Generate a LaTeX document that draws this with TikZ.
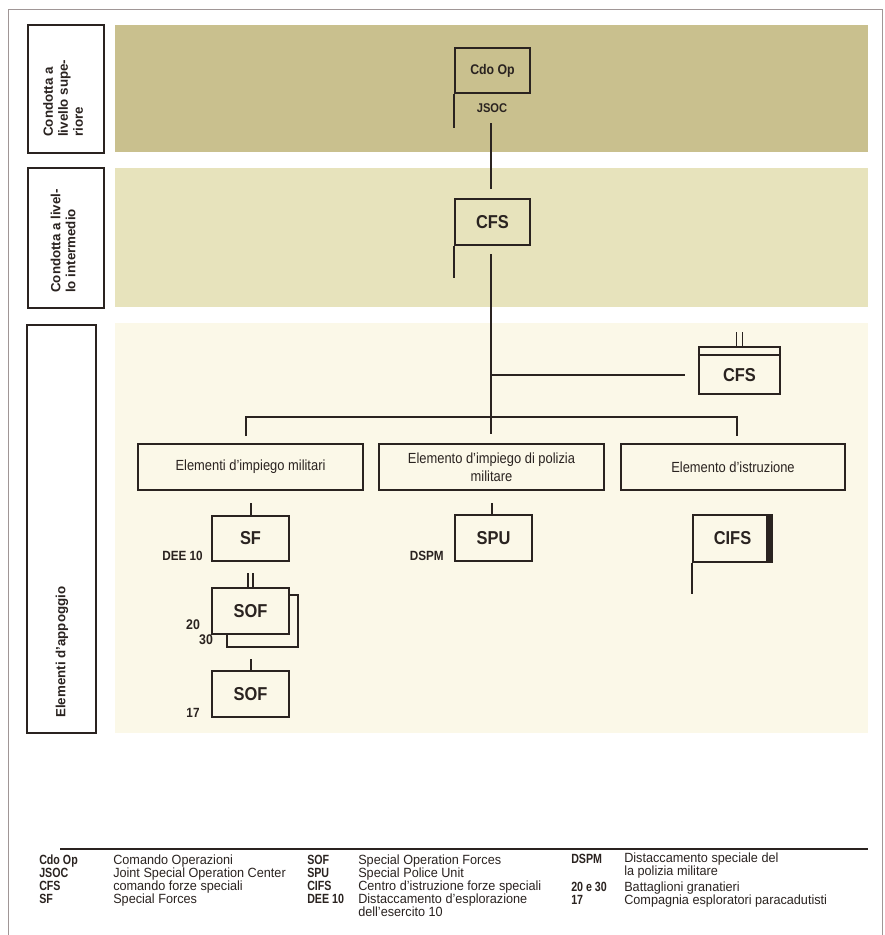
\documentclass[tikz,border=0pt]{standalone}
\usepackage{fontspec}
\setmainfont{Liberation Sans}
\newfontfamily\cond{Liberation Sans}[FakeStretch=0.88]
\newfontfamily\lgdr{Liberation Sans}[FakeStretch=0.95]
\newfontfamily\lgdb{Liberation Sans}[FakeStretch=0.80]
\definecolor{ink}{RGB}{42,35,32}
\definecolor{bandA}{RGB}{201,192,142}
\definecolor{bandB}{RGB}{231,227,188}
\definecolor{bandC}{RGB}{251,248,232}
\definecolor{framec}{RGB}{160,150,150}
\tikzset{
  unitbox/.style={draw=ink, line width=1.6pt, inner sep=0pt, text=ink},
  catbox/.style={draw=ink, line width=1.5pt, inner sep=0pt, text=ink, align=center,
     minimum width=168.75pt, minimum height=34.5pt, font=\cond\fontsize{11}{13.5}\selectfont},
  conn/.style={draw=ink, line width=0.9pt},
  bigt/.style={font=\cond\bfseries\fontsize{14}{15}\selectfont},
  sidelab/.style={rotate=90, anchor=west, align=left, inner sep=0pt, text=ink,
     font=\bfseries\fontsize{10}{11.25}\selectfont},
  sidebox/.style={draw=ink, line width=1.6pt},
  tag/.style={inner sep=0pt, text=ink, font=\cond\bfseries\fontsize{10}{11}\selectfont},
  labb/.style={anchor=base west, inner sep=0pt, text=ink, font=\lgdb\bfseries\fontsize{10}{10}\selectfont},
  labr/.style={anchor=base west, inner sep=0pt, text=ink, align=left, font=\lgdr\fontsize{10}{8}\selectfont},
}
\begin{document}
\begin{tikzpicture}[x=0.75pt,y=-0.75pt]
\useasboundingbox (0,0) rectangle (885,935);
\fill[white] (0,0) rectangle (885,935);
% outer frame
\draw[framec, line width=0.6pt] (8,935) -- (8,9) -- (882,9) -- (882,935);
% bands
\fill[bandA] (115,25) rectangle (868,152);
\fill[bandB] (115,168) rectangle (868,307);
\fill[bandC] (115,323) rectangle (868,733);
% side label boxes
\draw[sidebox] (28,25) rectangle (104,153);
\draw[sidebox] (28,168) rectangle (104,308);
\draw[sidebox] (27,325) rectangle (96,733);
\node[sidelab] (s1) at (63,137) {Condotta a\\livello supe-\\riore};
\node[sidelab] (s2) at (63,293) {Condotta a livel-\\lo intermedio};
\node[sidelab] (s3) at (62,718) {Elementi d’appoggio};

% top level
\node[unitbox, minimum width=56.25pt, minimum height=33.75pt,
      font=\cond\bfseries\fontsize{10.5}{12}\selectfont] (cdo) at (492.5,70.5) {Cdo Op};
\draw[ink, line width=1.6pt] (cdo.south west) -- ++(0,34);
\node[tag, font=\cond\bfseries\fontsize{9.5}{11}\selectfont] (jsoc) at (492,108) {JSOC};

% intermediate
\node[unitbox, bigt, minimum width=56.25pt, minimum height=34.5pt] (cfs1) at (492.5,222) {CFS};
\draw[ink, line width=1.6pt] (cfs1.south west) -- ++(0,32);
\draw[conn, shorten <=21.75pt, shorten >=6.75pt] (cdo.south -| 491,0) -- (cfs1.north -| 491,0);

% support level
\node[catbox] (e1) at (250.5,467) {Elementi d’impiego militari};
\node[catbox] (e2) at (491.5,467) {Elemento d’impiego di polizia\\militare};
\node[catbox, minimum width=168pt] (e3) at (733,467) {Elemento d’istruzione};

\draw[conn, shorten <=6pt, shorten >=6.75pt] (cfs1.south -| 491,0) -- (e2.north -| 491,0);

% side CFS
\node[unitbox, minimum width=60.75pt, minimum height=35.25pt] (cfs2) at (739.5,370.5) {};
\node[bigt, inner sep=0pt, text=ink] (cfs2t) at (739.5,375.5) {CFS};
\draw[ink, line width=1.3pt] (cfs2.north west) ++(0,9) -- ++(81,0);
\draw[ink, line width=1.2pt] (cfs2.north) ++(-3,0) -- ++(0,-14);
\draw[ink, line width=1.2pt] (cfs2.north) ++(3,0) -- ++(0,-14);
\coordinate (j1) at (491,375);
\draw[conn, shorten >=9.75pt] (j1) -- (j1 -| cfs2.west);

% main horizontal to the three categories
\draw[conn, shorten <=5.25pt, shorten >=5.25pt] (e1.north -| 246,0) -- ++(0,-26) -| (e3.north -| 737,0);

% military
\node[unitbox, bigt, minimum width=57.75pt, minimum height=33.75pt] (sf) at (250.5,538.5) {SF};
\draw[conn, shorten <=9pt] (e1.south -| 251,0) -- (sf.north -| 251,0);
\node[tag, anchor=east] (dee) at (203,556) {DEE 10};

\node[unitbox, fill=bandC, minimum width=53.25pt, minimum height=39pt] (sofb) at (262.5,621) {};
\node[unitbox, bigt, fill=bandC, minimum width=57.75pt, minimum height=34.5pt] (soff) at (250.5,611) {SOF};
\draw[ink, line width=1.2pt] (soff.north) ++(-2.5,0) -- ++(0,-14);
\draw[ink, line width=1.2pt] (soff.north) ++(2.5,0) -- ++(0,-14);
\node[tag, font=\cond\bfseries\fontsize{10.5}{11}\selectfont] (n20) at (193,625) {20};
\node[tag, font=\cond\bfseries\fontsize{10.5}{11}\selectfont] (n30) at (206,640) {30};

\node[unitbox, bigt, minimum width=57.75pt, minimum height=34.5pt] (sof2) at (250.5,694) {SOF};
\draw[conn, shorten <=8.25pt] (sofb.south -| 251,0) -- (sof2.north -| 251,0);
\node[tag] (n17) at (193,713) {17};

% police
\node[unitbox, bigt, minimum width=57.75pt, minimum height=34.5pt] (spu) at (493.5,538) {SPU};
\draw[conn, shorten <=9pt] (e2.south -| 492,0) -- (spu.north -| 492,0);
\node[tag, anchor=east] (dspm) at (444,556) {DSPM};

% training
\node[unitbox, bigt, minimum width=59.25pt, minimum height=35.25pt] (cifs) at (732.5,538.5) {CIFS};
\fill[ink] (cifs.north east) rectangle ([xshift=-5pt]cifs.south east);
\draw[ink, line width=1.6pt] (cifs.south west) -- ++(0,31);

% legend
\draw[ink, line width=0.9pt] (60,849) -- (868,849);
\node[labb] (a1) at (39,864) {Cdo Op};
\node[labb] (a2) at (39,877) {JSOC};
\node[labb] (a3) at (39,890) {CFS};
\node[labb] (a4) at (39,903) {SF};
\node[labr] (d1) at (113,864) {Comando Operazioni};
\node[labr] (d2) at (113,877) {Joint Special Operation Center};
\node[labr] (d3) at (113,890) {comando forze speciali};
\node[labr] (d4) at (113,903) {Special Forces};
\node[labb] (b1) at (307,864) {SOF};
\node[labb] (b2) at (307,877) {SPU};
\node[labb] (b3) at (307,890) {CIFS};
\node[labb] (b4) at (307,903) {DEE 10};
\node[labr] (f1) at (358,864) {Special Operation Forces};
\node[labr] (f2) at (358,877) {Special Police Unit};
\node[labr] (f3) at (358,890) {Centro d’istruzione forze speciali};
\node[labr, anchor=north west] (f4) at (358,894) {Distaccamento d’esplorazione\\[-1pt]dell’esercito 10};
\node[labb] (c1) at (571,863) {DSPM};
\node[labb] (c2) at (571,891) {20 e 30};
\node[labb] (c3) at (571,904) {17};
\node[labr, anchor=north west] (g1) at (624,853) {Distaccamento speciale del\\[-1pt]la polizia militare};
\node[labr] (g2) at (624,891) {Battaglioni granatieri};
\node[labr] (g3) at (624,904) {Compagnia esploratori paracadutisti};
\end{tikzpicture}
\end{document}
